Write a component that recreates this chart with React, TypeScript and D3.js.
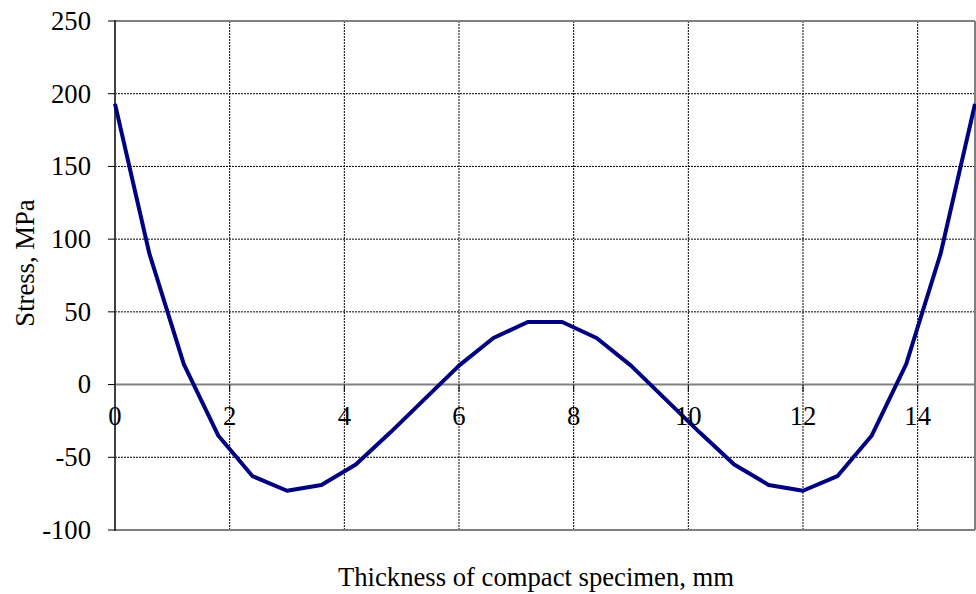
import React from "react";
import * as d3 from "d3";

const thickness = [0, 0.6, 1.2, 1.8, 2.4, 3.0, 3.6, 4.2, 4.8, 5.4, 6.0, 6.6, 7.2, 7.8, 8.4, 9.0, 9.6, 10.2, 10.8, 11.4, 12.0, 12.6, 13.2, 13.8, 14.4, 15.0];
const stress = [193, 90, 14, -35, -63, -73, -69, -55, -33, -10, 13, 32, 43, 43, 32, 13, -10, -33, -55, -69, -73, -63, -35, 14, 90, 193];
const xTicks = [0, 2, 4, 6, 8, 10, 12, 14];
const yTicks = [250, 200, 150, 100, 50, 0, -50, -100];
const xTitle = "Thickness of compact specimen, mm";
const yTitle = "Stress, MPa";

const W = 976;
const H = 594;
const FONT = "'Liberation Serif', 'Times New Roman', serif";
const FS = 26.67;

export default function App() {
  const x = d3.scaleLinear().domain([0, 15]).range([115, 975]);
  const y = d3.scaleLinear().domain([-100, 250]).range([530, 21]);
  const pts = thickness.map((t, i) => [t, stress[i]] as [number, number]);
  const line = d3.line<[number, number]>().x((d) => x(d[0])).y((d) => y(d[1]));
  const [x0, x1] = x.range();
  const [yb, yt] = y.range();

  return (
    <svg width={W} height={H} style={{ position: "absolute", left: 0, top: 0, background: "#fff" }} fontFamily={FONT}>
      <rect x={0} y={0} width={W} height={H} fill="#fff" />
      {/* horizontal gridlines */}
      {yTicks.filter((v) => v !== 0 && v !== 250 && v !== -100).map((v) => (
        <line key={"gy" + v} x1={x0} x2={x1} y1={y(v)} y2={y(v)} stroke="#000" strokeWidth={1} strokeDasharray="2,1" />
      ))}
      {/* vertical gridlines */}
      {xTicks.filter((v) => v !== 0).map((v) => (
        <line key={"gx" + v} x1={x(v)} x2={x(v)} y1={yt} y2={yb} stroke="#000" strokeWidth={1} strokeDasharray="2,1" />
      ))}
      {/* plot border */}
      <line x1={x0} x2={x1} y1={yt} y2={yt} stroke="#808080" strokeWidth={2} />
      <line x1={x1} x2={x1} y1={yt} y2={yb} stroke="#808080" strokeWidth={2} />
      <line x1={x0} x2={x1} y1={yb} y2={yb} stroke="#808080" strokeWidth={2} />
      {/* zero axis */}
      <line x1={x0} x2={x1} y1={y(0)} y2={y(0)} stroke="#808080" strokeWidth={2} />
      {xTicks.map((v) => (
        <line key={"tx" + v} x1={x(v)} x2={x(v)} y1={y(0)} y2={y(0) + 7} stroke="#000" strokeWidth={1} />
      ))}
      {/* left axis */}
      <line x1={x0} x2={x0} y1={yt - 1} y2={yb + 1} stroke="#404040" strokeWidth={2} />
      {yTicks.map((v) => (
        <line key={"ty" + v} x1={x0 - 7} x2={x0} y1={y(v)} y2={y(v)} stroke="#000" strokeWidth={1} />
      ))}
      {/* data line */}
      <path d={line(pts) || ""} fill="none" stroke="#000080" strokeWidth={4} strokeLinejoin="round" />
      {/* y tick labels */}
      {yTicks.map((v) => (
        <text key={"ly" + v} x={91} y={y(v)} dy="0.33em" textAnchor="end" fontSize={FS} fill="#000">
          {v}
        </text>
      ))}
      {/* x tick labels */}
      {xTicks.map((v) => (
        <text key={"lx" + v} x={x(v)} y={y(0) + 40} textAnchor="middle" fontSize={FS} fill="#000">
          {v}
        </text>
      ))}
      <text x={536} y={586} textAnchor="middle" fontSize={FS} fill="#000">
        {xTitle}
      </text>
      <text transform={`translate(34, 263) rotate(-90)`} textAnchor="middle" fontSize={FS} fill="#000">
        {yTitle}
      </text>
    </svg>
  );
}
